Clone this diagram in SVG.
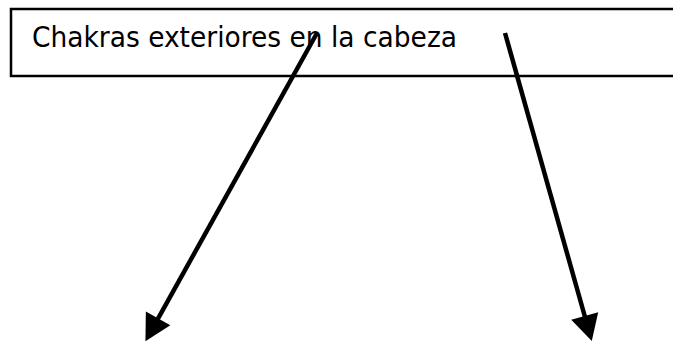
<svg xmlns="http://www.w3.org/2000/svg" width="673" height="343" viewBox="0 0 673 343">
  <style>
    .box { fill: #ffffff; stroke: #000000; stroke-width: 2.5; }
    .label { font-family: "DejaVu Sans", Verdana, sans-serif; font-size: 27.5px; fill: #000000; }
    .conn { stroke: #000000; stroke-width: 4.5; fill: none; marker-end: url(#arrow); }
  </style>
  <defs>
    <marker id="arrow" markerUnits="userSpaceOnUse" viewBox="0 -14 26 28" refX="1" refY="0" markerWidth="26" markerHeight="28" orient="auto" overflow="visible">
      <path d="M0,-14 L26,0 L0,14 Z" fill="#000000"/>
    </marker>
  </defs>
  <rect width="673" height="343" fill="#ffffff"/>
  <g id="node-title">
    <rect class="box" x="11" y="9" width="700" height="67"/>
    <text class="label" x="32" y="47" textLength="425" lengthAdjust="spacingAndGlyphs">Chakras exteriores en la cabeza</text>
  </g>
  <g id="connectors">
    <line class="conn" x1="317" y1="33" x2="157.6" y2="319.3"/>
    <line class="conn" x1="505" y1="33" x2="585" y2="317"/>
  </g>
</svg>
